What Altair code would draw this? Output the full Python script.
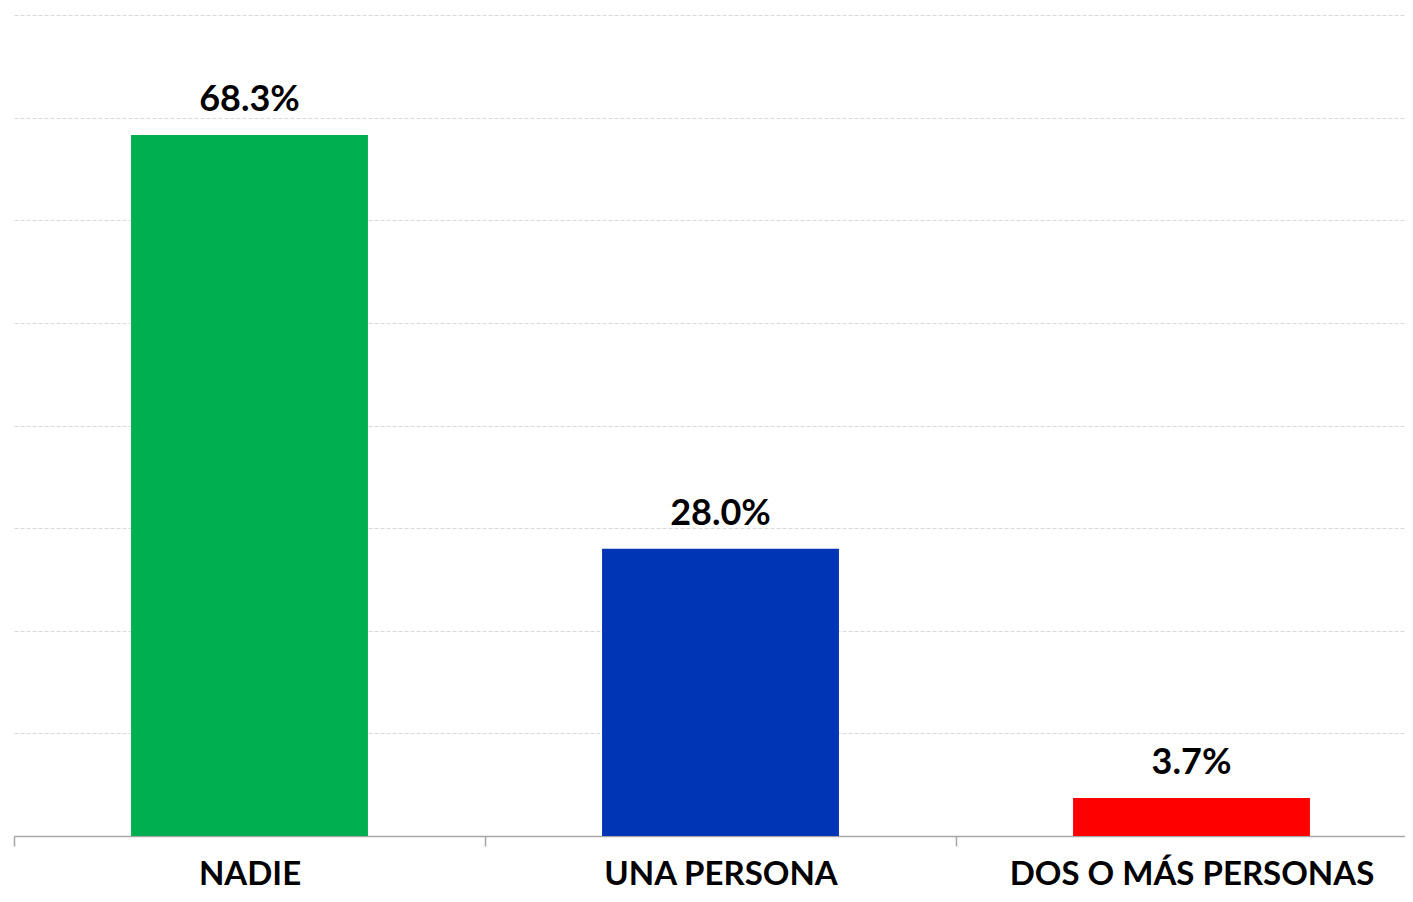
import altair as alt
import pandas as pd

categories = ["NADIE", "UNA PERSONA", "DOS O MÁS PERSONAS"]
values = [68.3, 28.0, 3.7]
labels = ["68.3%", "28.0%", "3.7%"]
colors = ["#00B050", "#0036B5", "#FF0000"]

df = pd.DataFrame({"cat": categories, "val": values, "lab": labels})

FONT = "Lato"

x = alt.X("cat:N", sort=categories, title=None,
          scale=alt.Scale(range=[0, 1413], paddingInner=0, paddingOuter=0),
          axis=alt.Axis(labelAngle=0, labelFont=FONT, labelFontSize=33, labelFontWeight="bold",
                        labelColor="#000000", labelPadding=38, tickSize=10, tickColor="#A6A6A6",
                        domainColor="#A6A6A6", domainWidth=1.5, tickWidth=1.5, grid=False,
                        labelBaseline="alphabetic", labelLimit=0, tickBand="extent"))

y = alt.Y("val:Q", title=None,
          scale=alt.Scale(domain=[0, 80], nice=False),
          axis=alt.Axis(values=[0, 10, 20, 30, 40, 50, 60, 70, 80], labels=False, ticks=False,
                        domain=False, grid=True, gridColor="#D9D9D9", gridDash=[4, 2], gridWidth=1))

bars = alt.Chart(df).mark_bar(width={"band": 0.503}).encode(
    x=x, y=y,
    color=alt.Color("cat:N", sort=categories, scale=alt.Scale(domain=categories, range=colors), legend=None),
)

text = alt.Chart(df).mark_text(font=FONT, fontSize=36, fontWeight="bold", color="#000000",
                               baseline="alphabetic", dy=-24).encode(
    x=alt.X("cat:N", sort=categories),
    y=alt.Y("val:Q"),
    text="lab:N",
)

chart = alt.layer(bars, text).properties(
    width=1391, height=821,
    autosize=alt.AutoSizeParams(type="none"),
    padding={"left": 6, "top": 7, "right": 0, "bottom": 58},
).configure_view(stroke=None)

chart.save("out.html", embed_options={"renderer": "svg", "actions": False})
